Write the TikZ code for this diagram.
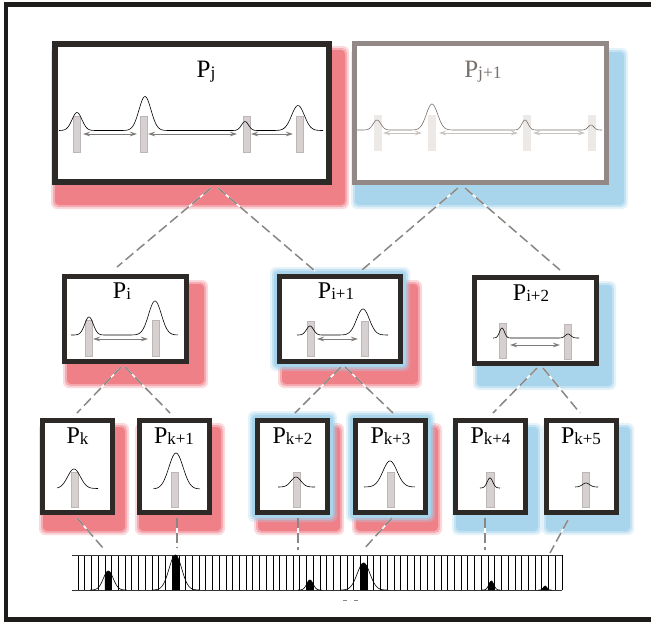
\documentclass[tikz,border=0pt]{standalone}
\usepackage{fontspec}
\setmainfont{Liberation Serif}
\usetikzlibrary{arrows.meta,calc}
\definecolor{frameC}{RGB}{30,28,26}
\definecolor{boxC}{RGB}{45,41,39}
\definecolor{boxG}{RGB}{146,137,134}
\definecolor{redS}{RGB}{240,128,136}
\definecolor{blueS}{RGB}{168,212,236}
\definecolor{barC}{RGB}{214,209,208}
\definecolor{barE}{RGB}{188,183,182}
\definecolor{barL}{RGB}{236,233,231}
\definecolor{arrC}{RGB}{128,124,122}
\definecolor{arrL}{RGB}{200,196,194}
\definecolor{conC}{RGB}{140,134,130}
\definecolor{txtG}{RGB}{120,113,110}
\newcommand{\softrect}[5]{%
  \fill[#1, opacity=0.3, rounded corners=6pt] (#2-2,#3-2) rectangle (#4+2,#5+2);
  \fill[#1, opacity=0.5, rounded corners=5pt] (#2,#3) rectangle (#4,#5);
  \fill[#1, rounded corners=4pt] (#2+2,#3+2) rectangle (#4-2,#5-2);}
\newcommand{\Pbig}[1]{{\fontsize{25}{25}\selectfont P}\raisebox{-1pt}{\fontsize{17.5}{17.5}\selectfont #1}}
\newcommand{\Pmid}[1]{{\fontsize{24}{24}\selectfont P}\raisebox{-1pt}{\fontsize{17}{17}\selectfont #1}}
\begin{document}
\begin{tikzpicture}[x=1pt,y=-1pt,
  declare function={gd(\gx,\gc,\gs)=min(abs((\gx-\gc)/\gs),5); G(\gx,\gc,\gs)=exp(-gd(\gx,\gc,\gs)*gd(\gx,\gc,\gs));},
  boxK/.style={draw=boxC, fill=white, inner sep=0pt, outer sep=0pt, line width=5pt},
  boxGr/.style={draw=boxG, fill=white, inner sep=0pt, outer sep=0pt, line width=5pt},
  lbl/.style={anchor=base, inner sep=0pt},
  barK/.style={fill=barC, draw=barE, line width=0.4pt},
  barLt/.style={fill=barL},
  dArr/.style={arrC, line width=0.8pt, {Stealth[length=7pt,width=4.5pt]}-{Stealth[length=7pt,width=4.5pt]}},
  lArr/.style={arrL, line width=0.8pt, {Stealth[length=7pt,width=4.5pt]}-{Stealth[length=7pt,width=4.5pt]}},
  crvK/.style={black, line width=0.6pt},
  crvG/.style={txtG, line width=0.6pt},
  conn/.style={preaction={draw=white, line width=1.5pt, solid}, draw=conC, line width=1.5pt, dash pattern=on 10pt off 4.5pt},
  hline/.style={black, line width=0.6pt}]
\useasboundingbox (0,0) rectangle (651,624);
\clip (0,0) rectangle (651,624);
\fill[white] (0,0) rectangle (651,624);
% ---------- shadows ----------
\softrect{redS}{53}{48}{347}{207}
\softrect{blueS}{353}{50}{626}{207}
\softrect{redS}{65}{282}{206}{386}
\softrect{redS}{280}{282}{420}{386}
\softrect{blueS}{272}{269}{408}{369}
\softrect{blueS}{475}{283}{614}{388}
\softrect{redS}{41}{425}{127}{533}
\softrect{redS}{137}{425}{223}{533}
\softrect{redS}{256}{425}{342}{533}
\softrect{blueS}{250}{413}{335}{520}
\softrect{redS}{354}{425}{440}{533}
\softrect{blueS}{348}{413}{433}{520}
\softrect{blueS}{454}{425}{540}{533}
\softrect{blueS}{544}{425}{632}{533}
% ---------- connectors ----------
\coordinate (c1a) at (211,188); \coordinate (c1b) at (117,267);
\coordinate (c2a) at (218,188); \coordinate (c2b) at (315,271);
\coordinate (c3a) at (458,188); \coordinate (c3b) at (362,270);
\coordinate (c4a) at (465,188); \coordinate (c4b) at (560,270);
\coordinate (c5a) at (121,367); \coordinate (c5b) at (77,413);
\coordinate (c6a) at (125,367); \coordinate (c6b) at (170,413);
\coordinate (c7a) at (341,367); \coordinate (c7b) at (295,413);
\coordinate (c8a) at (345,367); \coordinate (c8b) at (393,413);
\coordinate (c9a) at (537,368); \coordinate (c9b) at (493,413);
\coordinate (c10a) at (543,368); \coordinate (c10b) at (580,413);
\coordinate (h1a) at (77,518); \coordinate (h1b) at (103,548);
\coordinate (h2a) at (177,518); \coordinate (h2b) at (177,548);
\coordinate (h3a) at (298,518); \coordinate (h3b) at (298,550);
\coordinate (h4a) at (392,518); \coordinate (h4b) at (363,550);
\coordinate (h5a) at (485,518); \coordinate (h5b) at (485,550);
\coordinate (h6a) at (568,520); \coordinate (h6b) at (550,553);
\foreach \a in {c1,c2,c3,c4,c5,c6,c7,c8,c9,c10,h1,h2,h3,h4,h5,h6}
  \draw[conn] (\a a) -- (\a b);
% ---------- boxes ----------
\node[boxK, line width=6pt, minimum width=274pt, minimum height=138pt] (Pj) at (192,113) {};
\node[boxGr, minimum width=252pt, minimum height=139pt] (Pj1) at (480.5,113) {};
\node[boxK, minimum width=122pt, minimum height=85pt] (Pi) at (125.5,319) {};
\node[boxK, minimum width=121pt, minimum height=85pt] (Pi1) at (340,319) {};
\node[boxK, minimum width=122pt, minimum height=86pt] (Pi2) at (535.5,320.5) {};
\foreach \n/\cx in {Pk/77.5, Pk1/174, Pk2/292.5, Pk3/390.5, Pk4/490, Pk5/581}
  \node[boxK, minimum width=70pt, minimum height=92pt] (\n) at (\cx,466.5) {};
% ---------- labels ----------
\node[lbl] (tPj) at (206,77) {\Pbig{j}};
\node[lbl, text=txtG] (tPj1) at (483,77) {\Pbig{j+1}};
\node[lbl] (tPi) at (122,298) {\Pmid{i}};
\node[lbl] (tPi1) at (336,298) {\Pmid{i+1}};
\node[lbl] (tPi2) at (531,300) {\Pmid{i+2}};
\node[lbl] (tPk) at (77.5,443) {\Pmid{k}};
\node[lbl] (tPk1) at (174,443) {\Pmid{k+1}};
\node[lbl] (tPk2) at (292.5,443) {\Pmid{k+2}};
\node[lbl] (tPk3) at (390.5,443) {\Pmid{k+3}};
\node[lbl] (tPk4) at (490.5,443) {\Pmid{k+4}};
\node[lbl] (tPk5) at (581,443) {\Pmid{k+5}};
% ---------- Pj contents ----------
\foreach \xa in {73,140,243,296} \draw[barK] (\xa,116) rectangle (\xa+7.5,152);
\draw[crvK] plot[domain=59:323, samples=240] (\x,{130.5-18*G(\x,77,7)-34*G(\x,145,8.5)-9*G(\x,245,5)-25*G(\x,298,9)});
\draw[dArr] (83,134) -- (137,134);
\draw[dArr] (148,134) -- (237,134);
\draw[dArr] (251,134) -- (293,134);
% ---------- Pj+1 contents ----------
\foreach \xa in {374,428,523,588} \fill[barLt] (\xa,115) rectangle (\xa+7.5,151);
\draw[crvG] plot[domain=357:602, samples=240] (\x,{130-10*G(\x,377,5.5)-26*G(\x,432,8)-10*G(\x,525,4.5)-5*G(\x,591,4)});
\draw[lArr] (383,133) -- (422,133);
\draw[lArr] (439,133) -- (518,133);
\draw[lArr] (533,133) -- (585,133);
% ---------- Pi contents ----------
\foreach \xa in {85,152} \draw[barK] (\xa,320) rectangle (\xa+7.5,356);
\draw[crvK] plot[domain=71:178, samples=150] (\x,{335-18*G(\x,89,6)-34*G(\x,155,9)});
\draw[dArr] (93,339) -- (148,339);
% ---------- Pi+1 contents ----------
\foreach \xa in {307,361} \draw[barK] (\xa,321) rectangle (\xa+7,356);
\draw[crvK] plot[domain=297:388, samples=150] (\x,{335-9*G(\x,310,5)-26*G(\x,363,9)});
\draw[dArr] (317,339) -- (358,339);
% ---------- Pi+2 contents ----------
\draw[barK] (499,323) rectangle (506,358);
\draw[barK] (564,324) rectangle (571.5,359);
\draw[crvK] plot[domain=493:579, samples=150] (\x,{338-10*G(\x,502,3.5)-4*G(\x,568,4)});
\draw[dArr] (510,345) -- (560,345);
% ---------- bottom boxes contents ----------
\foreach \bx/\bl/\pc/\ph/\ps/\da/\db in {71/488.5/74/19.5/9/57/98, 171/489/176/36/10/153.5/200, 293/487/296/10/7/278/315, 387/487/390/26/10/364/415, 486.5/488/490/10/4/480/500, 582/487/586/4/5/575/598}{
  \draw[barK] (\bx,472.5) rectangle (\bx+7.5,507.5);
  \draw[crvK] plot[domain=\da:\db, samples=100] (\x,{\bl-\ph*G(\x,\pc,\ps)});
}
% ---------- histogram ----------
\foreach \k in {0,...,72} \draw[hline] ({78+6.72*\k},555) -- ({78+6.72*\k},590);
\draw[black!80, line width=0.6pt] (72,555) -- (562,555);
\draw[black!80, line width=0.6pt] (72,590) -- (562,590);
\foreach \pc/\ph/\ps in {108.3/19/7, 175.4/35/9, 309.9/10/4.5, 363.6/27/9, 491.3/9/3.5, 545.1/4/2.5}{
  \fill[black] (\pc-3.36,590) -- plot[domain=\pc-3.36:\pc+3.36, samples=12] (\x,{590-\ph*G(\x,\pc,\ps)}) -- (\pc+3.36,590) -- cycle;
  \draw[black, line width=0.6pt] plot[domain=\pc-2.6*\ps:\pc+2.6*\ps, samples=80] (\x,{590-\ph*G(\x,\pc,\ps)});
}
\draw[conC, line width=0.8pt] (343,600) -- (347,600);
\draw[conC, line width=0.8pt] (354,600) -- (358,600);
% ---------- frame ----------
\draw[frameC, line width=4.5pt] (700,4.5) -- (6,4.5) -- (6,619.5) -- (700,619.5);
\end{tikzpicture}
\end{document}
